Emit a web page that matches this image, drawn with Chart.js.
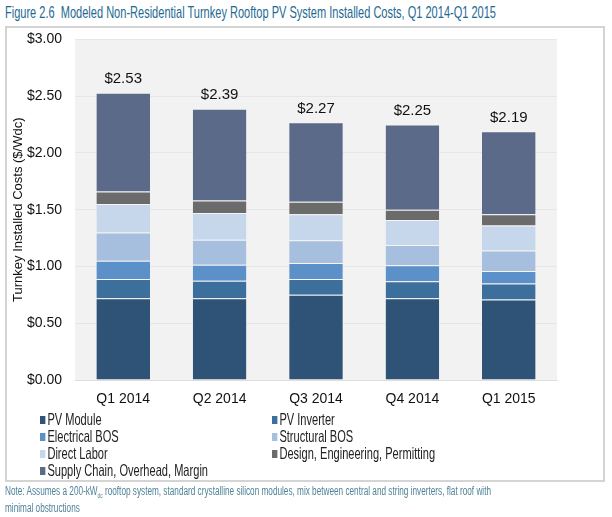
<!DOCTYPE html>
<html>
<head>
<meta charset="utf-8">
<script src="https://cdn.jsdelivr.net/npm/chart.js@4/dist/chart.umd.min.js"></script>
<style>
  body { margin: 0; background: #fff; width: 612px; height: 517px; position: relative; overflow: hidden; }
  .narrow { font-family: "Liberation Sans", Arial, sans-serif; white-space: nowrap; transform-origin: 0 0; display: inline-block; }
  #title { position: absolute; left: 5px; top: 3px; font-size: 17px; color: #236a92; }
  #frame { position: absolute; left: 5px; top: 26px; width: 596px; height: 452px; border: 2px solid #d4d4d4; }
  #wrap { position: absolute; left: 0; top: 18px; width: 612px; height: 394px; }
  #legend { position: absolute; left: 40px; top: 411px; width: 520px; height: 70px; }
  .item { position: absolute; font-size: 16.5px; color: #222; line-height: 17px; }
  .item span { display: inline-block; width: 8px; height: 8px; margin-right: 3px; vertical-align: 1px; }
  .note { position: absolute; left: 5px; font-size: 12px; color: #4f8299; }
</style>
</head>
<body>
<div id="title" class="narrow">Figure 2.6&nbsp; Modeled Non-Residential Turnkey Rooftop PV System Installed Costs, Q1 2014-Q1 2015</div>
<div id="frame"></div>
<div id="wrap"><canvas id="costChart"></canvas></div>
<div id="legend"></div>
<div id="note1" class="note narrow" style="top:484px">Note: Assumes a 200-kW<sub style="font-size:7px">dc</sub> rooftop system, standard crystalline silicon modules, mix between central and string inverters, flat roof with</div>
<div id="note2" class="note narrow" style="top:501px">minimal obstructions</div>

<script>
/* 四半期ごとの設置コスト内訳 ($/Wdc) */
const quarters = ['Q1 2014', 'Q2 2014', 'Q3 2014', 'Q4 2014', 'Q1 2015'];
const seriesNames = ['PV Module', 'PV Inverter', 'Electrical BOS', 'Structural BOS',
    'Direct Labor', 'Design, Engineering, Permitting', 'Supply Chain, Overhead, Margin'];
const pvModule     = [0.72, 0.72, 0.75, 0.72, 0.71];
const pvInverter   = [0.17, 0.155, 0.14, 0.15, 0.14];
const electricalBos = [0.16, 0.14, 0.14, 0.14, 0.11];
const structuralBos = [0.25, 0.22, 0.20, 0.18, 0.18];
const directLabor  = [0.25, 0.235, 0.23, 0.22, 0.22];
const design       = [0.11, 0.11, 0.11, 0.09, 0.10];
const supplyChain  = [0.87, 0.81, 0.70, 0.75, 0.73];
const totals       = [2.53, 2.39, 2.27, 2.25, 2.19];
const yTicks       = [0, 0.5, 1, 1.5, 2, 2.5, 3];

const colors = ['#2f5277', '#3d6f9d', '#5b90c9', '#a7bfdf', '#c6d7ec', '#6b6b6b', '#5b6a88'];
const seriesData = [pvModule, pvInverter, electricalBos, structuralBos, directLabor, design, supplyChain];

const fontFamily = '"Liberation Sans", Arial, sans-serif';

// プロット領域の背景
const bgPlugin = {
    id: 'plotBg',
    beforeDraw(chart) {
        const a = chart.chartArea;
        const ctx = chart.ctx;
        ctx.save();
        ctx.fillStyle = '#f2f2f2';
        ctx.fillRect(a.left, a.top, a.right - a.left, a.bottom - a.top);
        ctx.restore();
    }
};

// 合計ラベル
const totalPlugin = {
    id: 'totals',
    afterDatasetsDraw(chart) {
        const ctx = chart.ctx;
        const x = chart.scales.x, y = chart.scales.y;
        ctx.save();
        ctx.font = '15px ' + fontFamily;
        ctx.fillStyle = '#111';
        ctx.textAlign = 'center';
        ctx.textBaseline = 'bottom';
        totals.forEach(function (t, i) {
            ctx.fillText('$' + t.toFixed(2), x.getPixelForValue(i), y.getPixelForValue(t) - 6);
        });
        ctx.restore();
    }
};

const chart = new Chart(document.getElementById('costChart'), {
    type: 'bar',
    data: {
        labels: quarters,
        datasets: seriesNames.map(function (name, i) {
            return {
                label: name,
                data: seriesData[i],
                backgroundColor: colors[i],
                borderColor: 'rgba(255,255,255,0.25)',
                borderWidth: { top: 1 },
                borderSkipped: false,
                barPercentage: 0.556,
                categoryPercentage: 1.0
            };
        })
    },
    options: {
        responsive: true,
        maintainAspectRatio: false,
        animation: false,
        layout: { padding: { top: 2, right: 55, left: 0, bottom: 0 } },
        plugins: {
            legend: { display: false },
            tooltip: { enabled: false }
        },
        scales: {
            x: {
                stacked: true,
                grid: { display: false },
                border: { display: true, color: '#dedede' },
                ticks: { color: '#111', font: { family: fontFamily, size: 14 }, padding: 3 },
                afterFit: function (s) { s.height = 32; }
            },
            y: {
                stacked: true,
                min: 0,
                max: 3,
                afterBuildTicks: function (s) { s.ticks = yTicks.map(function (v) { return { value: v }; }); },
                grid: { color: '#e6e6e6', drawTicks: false },
                border: { display: false },
                ticks: {
                    color: '#111',
                    font: { family: fontFamily, size: 14 },
                    padding: 13,
                    callback: function (v) { return '$' + Number(v).toFixed(2); }
                },
                title: {
                    display: true,
                    text: 'Turnkey Installed Costs ($/Wdc)',
                    color: '#111',
                    font: { family: fontFamily, size: 13 },
                    padding: { top: 11, bottom: 0 }
                },
                afterFit: function (s) { s.width = 75; }
            }
        }
    },
    plugins: [bgPlugin, totalPlugin]
});

// 凡例 (2列)
const legendEl = document.getElementById('legend');
const legendItems = [];
seriesNames.forEach(function (name, i) {
    const d = document.createElement('div');
    d.className = 'item narrow';
    d.style.left = (i % 2 === 0 ? 0 : 232) + 'px';
    d.style.top = (Math.floor(i / 2) * 17) + 'px';
    d.innerHTML = '<span style="background:' + colors[i] + '"></span>' + name;
    legendEl.appendChild(d);
    legendItems.push(d);
});

// 狭い書体の代わりに横方向に縮める
function squeeze(el, target) {
    const w = el.getBoundingClientRect().width;
    const k = target / w;
    el.style.transform = 'scaleX(' + k + ')';
    return k;
}
squeeze(document.getElementById('title'), 491);
squeeze(document.getElementById('note1'), 486);
const k = squeeze(legendItems[6], 168);
legendItems.forEach(function (d) { d.style.transform = 'scaleX(' + k + ')'; });
document.getElementById('note2').style.transform = document.getElementById('note1').style.transform;
</script>
</body>
</html>
